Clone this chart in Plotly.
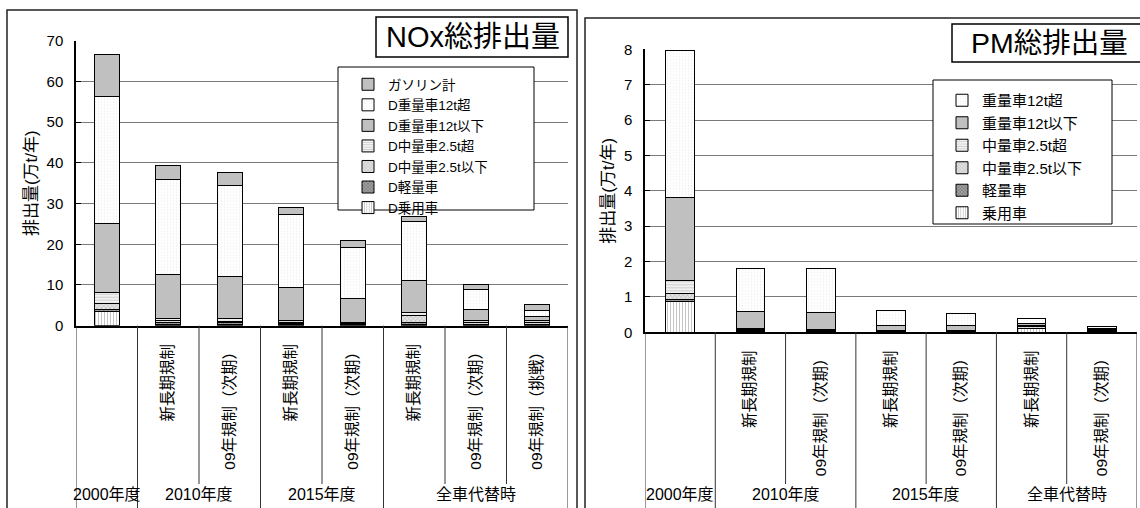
import plotly.graph_objects as go

W, H = 1140, 508

# ---------------- data ----------------
nox_groups = ["2000年度", "2010年度", "2010年度", "2015年度", "2015年度",
              "全車代替時", "全車代替時", "全車代替時"]
nox_subs = ["", "新長期規制", "09年規制（次期）", "新長期規制", "09年規制（次期）",
            "新長期規制", "09年規制（次期）", "09年規制（挑戦）"]
nox_names = ["D乗用車", "D軽量車", "D中量車2.5t以下", "D中量車2.5t超",
             "D重量車12t以下", "D重量車12t超", "ガソリン計"]
nox_d_passenger = [3.5, 0.4, 0.4, 0.3, 0.2, 0.4, 0.2, 0.2]
nox_d_light = [0.6, 0.3, 0.3, 0.2, 0.1, 0.35, 0.2, 0.2]
nox_d_mid_small = [1.4, 0.5, 0.4, 0.3, 0.2, 1.85, 0.3, 0.3]
nox_d_mid_large = [2.6, 0.6, 0.6, 0.4, 0.3, 0.75, 0.5, 0.5]
nox_d_heavy_small = [17.1, 10.85, 10.5, 8.3, 5.9, 7.7, 2.8, 1.0]
nox_d_heavy_large = [31.1, 23.25, 22.2, 17.8, 12.4, 14.6, 5.0, 1.6]
nox_gasoline = [10.4, 3.4, 3.3, 1.8, 1.9, 1.1, 1.2, 1.3]

pm_groups = ["2000年度", "2010年度", "2010年度", "2015年度", "2015年度",
             "全車代替時", "全車代替時"]
pm_subs = ["", "新長期規制", "09年規制（次期）", "新長期規制", "09年規制（次期）",
           "新長期規制", "09年規制（次期）"]
pm_names = ["乗用車", "軽量車", "中量車2.5t以下", "中量車2.5t超",
            "重量車12t以下", "重量車12t超"]
pm_passenger = [0.88, 0.02, 0.02, 0.01, 0.01, 0.10, 0.02]
pm_light = [0.05, 0.04, 0.03, 0.01, 0.01, 0.02, 0.02]
pm_mid_small = [0.16, 0.02, 0.02, 0.01, 0.01, 0.03, 0.01]
pm_mid_large = [0.38, 0.03, 0.02, 0.01, 0.01, 0.04, 0.02]
pm_heavy_small = [2.34, 0.47, 0.47, 0.15, 0.14, 0.07, 0.05]
pm_heavy_large = [4.15, 1.23, 1.23, 0.44, 0.36, 0.14, 0.04]

nox_series = [nox_d_passenger, nox_d_light, nox_d_mid_small, nox_d_mid_large,
              nox_d_heavy_small, nox_d_heavy_large, nox_gasoline]
pm_series = [pm_passenger, pm_light, pm_mid_small, pm_mid_large,
             pm_heavy_small, pm_heavy_large]

# ---------------- styles ----------------
STYLES = [
    dict(color="white", pattern=dict(shape="|", fgcolor="#8c8c8c", bgcolor="white", size=3, solidity=0.35)),
    dict(color="#a0a0a0", pattern=dict(shape="x", fgcolor="#303030", bgcolor="#a8a8a8", size=3, solidity=0.45)),
    dict(color="#d8d8d8", pattern=dict(shape="x", fgcolor="#8a8a8a", bgcolor="#e4e4e4", size=3, solidity=0.35)),
    dict(color="#eeeeee", pattern=dict(shape="-", fgcolor="#a8a8a8", bgcolor="#f4f4f4", size=3, solidity=0.4)),
    dict(color="#c0c0c0", pattern=dict(shape="")),
    dict(color="white", pattern=dict(shape=".", fgcolor="#dcdcdc", bgcolor="white", size=3, solidity=0.2)),
    dict(color="#c0c0c0", pattern=dict(shape="")),
]

FONT = "Liberation Sans, Arial, Noto Sans CJK JP, sans-serif"


def px_x(p):
    return p / W


def px_y(p):
    return 1 - p / H


fig = go.Figure()

for i, (name, vals) in enumerate(zip(nox_names, nox_series)):
    st = STYLES[i]
    fig.add_trace(go.Bar(
        x=list(range(len(nox_subs))), y=vals, name=name,
        xaxis="x", yaxis="y", legend="legend", legendrank=1000 - i,
        marker=dict(color=st["color"], pattern=st["pattern"],
                    line=dict(color="black", width=1)),
    ))

for i, (name, vals) in enumerate(zip(pm_names, pm_series)):
    st = STYLES[i]
    fig.add_trace(go.Bar(
        x=list(range(len(pm_subs))), y=vals, name=name,
        xaxis="x2", yaxis="y2", legend="legend2", legendgroup=name,
        legendrank=1000 - i,
        marker=dict(color=st["color"], pattern=st["pattern"],
                    line=dict(color="black", width=1)),
    ))

shapes = []
annotations = []

# frames
shapes.append(dict(type="rect", xref="paper", yref="paper",
                   x0=px_x(7), x1=px_x(577), y0=px_y(520), y1=px_y(10),
                   line=dict(color="#222", width=1.5), layer="below"))
shapes.append(dict(type="rect", xref="paper", yref="paper",
                   x0=px_x(585), x1=px_x(1150), y0=px_y(520), y1=px_y(18),
                   line=dict(color="#222", width=1.5), layer="below"))

axis_px = {"x": 325.7, "x2": 332.3}


def add_category_decor(groups, xref, label_y_px, short_end_px, bottom_px):
    n = len(groups)
    for k in range(n + 1):
        pos = k - 0.5
        if k == 0 or k == n or groups[k] != groups[k - 1]:
            end = bottom_px
        else:
            end = short_end_px
        shapes.append(dict(type="line", xref=xref, yref="paper",
                           x0=pos, x1=pos, y0=px_y(end), y1=px_y(axis_px[xref]),
                           line=dict(color="#333", width=1)))
    seen = []
    for g in groups:
        if g not in seen:
            seen.append(g)
    for g in seen:
        idx = [i for i, gg in enumerate(groups) if gg == g]
        annotations.append(dict(text=g, xref=xref, yref="paper",
                                x=sum(idx) / len(idx), y=px_y(label_y_px),
                                xanchor="center", yanchor="middle",
                                showarrow=False, font=dict(size=16, family=FONT, color="black")))


add_category_decor(nox_groups, "x", 494, 484, 520)
add_category_decor(pm_groups, "x2", 494, 484, 520)

# title boxes
shapes.append(dict(type="rect", xref="paper", yref="paper",
                   x0=px_x(376), x1=px_x(568), y0=px_y(57), y1=px_y(17),
                   line=dict(color="black", width=1.5), fillcolor="white", layer="above"))
shapes.append(dict(type="rect", xref="paper", yref="paper",
                   x0=px_x(952), x1=px_x(1150), y0=px_y(62), y1=px_y(24),
                   line=dict(color="black", width=1.5), fillcolor="white", layer="above"))
annotations.append(dict(text="NOx総排出量", xref="paper", yref="paper",
                        x=px_x(473), y=px_y(37), xanchor="center", yanchor="middle",
                        showarrow=False,
                        font=dict(size=29, family=FONT, color="black")))
annotations.append(dict(text="PM総排出量", xref="paper", yref="paper",
                        x=px_x(1049), y=px_y(43), xanchor="center", yanchor="middle",
                        showarrow=False,
                        font=dict(size=28.5, family=FONT, color="black")))

# legend boxes
shapes.append(dict(type="rect", xref="paper", yref="paper",
                   x0=px_x(338), x1=px_x(534), y0=px_y(210), y1=px_y(67),
                   line=dict(color="black", width=1), fillcolor="white", layer="above"))
shapes.append(dict(type="rect", xref="paper", yref="paper",
                   x0=px_x(933), x1=px_x(1112), y0=px_y(224), y1=px_y(80),
                   line=dict(color="black", width=1), fillcolor="white", layer="above"))

common_y = dict(showgrid=True, gridcolor="#7a7a7a", gridwidth=1,
                showline=True, linecolor="black", linewidth=1.5,
                ticks="inside", ticklen=5, tickcolor="black",
                ticklabelstandoff=8, automargin=False,
                tickfont=dict(size=15, family=FONT, color="black"),
                zeroline=False)
common_x = dict(showgrid=False, showline=True, linecolor="black", linewidth=2,
                ticks="", tickangle=-90, ticklabelstandoff=10, automargin=False,
                tickfont=dict(size=15.5, family=FONT, color="black"), zeroline=False)

fig.update_layout(
    width=W, height=H,
    margin=dict(l=0, r=0, t=0, b=0, pad=0, autoexpand=False),
    paper_bgcolor="white", plot_bgcolor="white",
    barmode="stack", bargap=0.59,
    font=dict(family=FONT, color="black"),
    xaxis=dict(common_x, domain=[px_x(76), px_x(568)], range=[-0.5, len(nox_subs) - 0.5],
               tickvals=list(range(len(nox_subs))), ticktext=nox_subs, anchor="y"),
    yaxis=dict(common_y, domain=[px_y(325.7), px_y(40.7)], range=[0, 70], dtick=10,
               anchor="x",
               title=dict(text="排出量(万t/年)", font=dict(size=17, family=FONT), standoff=5)),
    xaxis2=dict(common_x, domain=[px_x(645), px_x(1137)], range=[-0.5, len(pm_subs) - 0.5],
                tickvals=list(range(len(pm_subs))), ticktext=pm_subs, anchor="y2"),
    yaxis2=dict(common_y, domain=[px_y(332.3), px_y(49.3)], range=[0, 8], dtick=1,
                anchor="x2",
                title=dict(text="排出量(万t/年)", font=dict(size=17, family=FONT), standoff=5)),
    legend=dict(x=px_x(348), y=px_y(69), xanchor="left", yanchor="top",
                bgcolor="rgba(0,0,0,0)", borderwidth=0, traceorder="normal",
                font=dict(size=13.5, family=FONT, color="black")),
    legend2=dict(x=px_x(942), y=px_y(84), xanchor="left", yanchor="top",
                 bgcolor="rgba(0,0,0,0)", borderwidth=0, traceorder="normal",
                 tracegroupgap=1,
                 font=dict(size=15, family=FONT, color="black")),
    shapes=shapes,
    annotations=annotations,
    showlegend=True,
)

fig.write_html(
    "out.html",
    config={"displayModeBar": False},
    post_script=("document.documentElement.style.margin='0';"
                 "document.body.style.margin='0';document.body.style.padding='0';"
                 "var d=document.getElementById('{plot_id}');"
                 "d.style.position='fixed';d.style.left='0px';d.style.top='0px';"),
)
